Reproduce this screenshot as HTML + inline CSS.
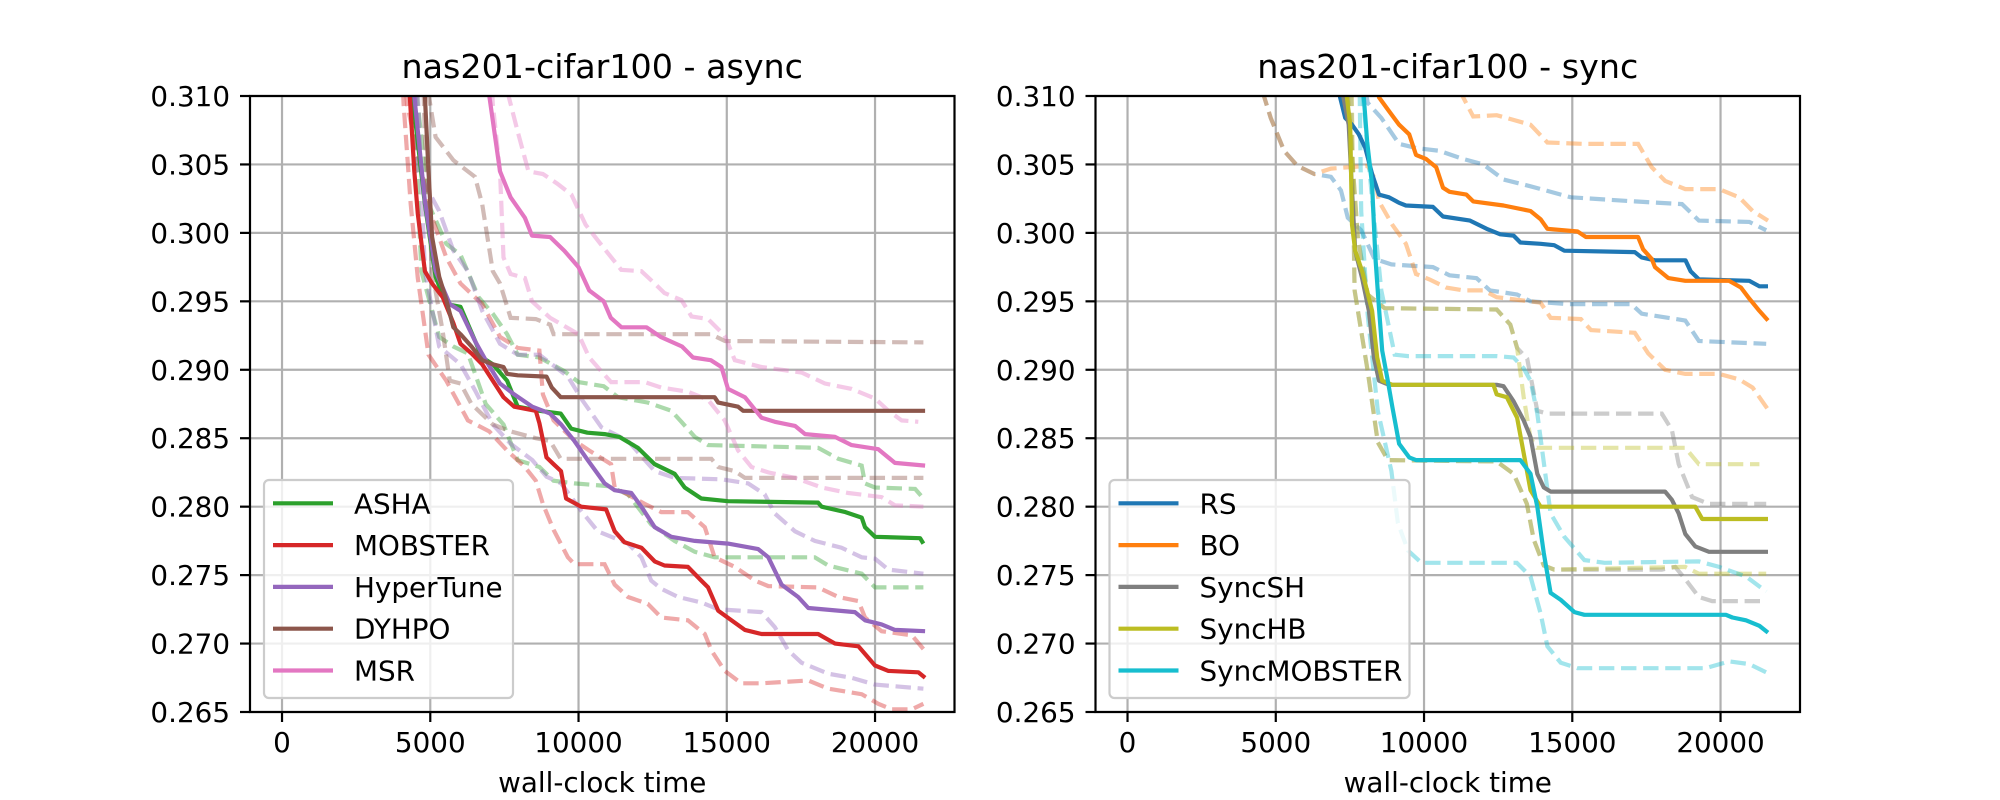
<!DOCTYPE html>
<html><head><meta charset="utf-8"><style>
html,body{margin:0;padding:0;background:#fff;}
svg{display:block;font-family:"DejaVu Sans","Liberation Sans",sans-serif;}
</style></head><body>
<svg id="fig" width="2000" height="800" viewBox="0 0 2000 800" xmlns="http://www.w3.org/2000/svg">
<rect x="0" y="0" width="2000" height="800" fill="#fff"/>
<defs>
<clipPath id="clipL"><rect x="250" y="96" width="704.5" height="616"/></clipPath>
<clipPath id="clipR"><rect x="1095.5" y="96" width="704.5" height="616"/></clipPath>
</defs>
<g id="axL"></g>
<g id="axR"></g>
</svg>
<script>
// ---- data: tick labels ----
const xTicks = [0, 5000, 10000, 15000, 20000];
const yTicks = [0.265, 0.270, 0.275, 0.280, 0.285, 0.290, 0.295, 0.300, 0.305, 0.310];
const yTickLabels = ["0.265","0.270","0.275","0.280","0.285","0.290","0.295","0.300","0.305","0.310"];
const asyncNames = ["ASHA","MOBSTER","HyperTune","DYHPO","MSR"];
const syncNames = ["RS","BO","SyncSH","SyncHB","SyncMOBSTER"];

// ---- async: solid (mean) ----
const ashaT = [4300,4400,4820,5180,5540,6020,6750,7110,7590,7950,8680,9400,9750,10300,10880,11380,12000,12570,13240,13580,14140,15040,18080,18200,19000,19550,19660,20000,21520,21630];
const ashaV = [0.315,0.310,0.3021,0.2968,0.2948,0.2946,0.2909,0.2904,0.2892,0.2873,0.2870,0.2868,0.2857,0.2854,0.2853,0.2851,0.2843,0.2831,0.2824,0.2814,0.2806,0.2804,0.2803,0.2800,0.2796,0.2792,0.2785,0.2778,0.2777,0.2773];
const mobT = [4250,4310,4460,4580,4820,5060,5420,5780,6020,6390,6750,7110,7470,7830,8560,8680,8920,9160,9410,9580,10090,10930,11220,11550,12120,12570,12900,13690,14140,14370,14710,15160,15610,16170,18080,18650,19440,20000,20450,21460,21690];
const mobV = [0.315,0.310,0.3045,0.3014,0.2972,0.2963,0.2953,0.2934,0.2919,0.2912,0.2904,0.2892,0.2880,0.2873,0.2870,0.2861,0.2836,0.2831,0.2826,0.2806,0.2800,0.2798,0.2782,0.2774,0.2770,0.2760,0.2757,0.2756,0.2746,0.2741,0.2724,0.2717,0.2710,0.2707,0.2707,0.2700,0.2698,0.2684,0.2680,0.2679,0.2675];
const htT = [4400,4460,4820,5180,5660,6020,6510,6870,7350,7830,8440,9040,9414,9860,10310,10880,11220,11780,12120,12570,13130,13920,15040,16060,16400,16850,17410,17750,19320,19660,20220,20670,21690];
const htV = [0.315,0.310,0.3023,0.2972,0.2948,0.2943,0.2921,0.2907,0.2890,0.2882,0.2873,0.2868,0.2860,0.2848,0.2834,0.2817,0.2812,0.2810,0.2800,0.2785,0.2778,0.2775,0.2773,0.2769,0.2763,0.2743,0.2734,0.2726,0.2723,0.2717,0.2714,0.2710,0.2709];
const dyT = [4800,4820,4940,5060,5300,5540,5780,6020,6390,6750,7110,7470,7590,7950,8920,9100,9400,14590,14710,15380,15550,21690];
const dyV = [0.315,0.310,0.3045,0.2997,0.2968,0.2951,0.2931,0.2926,0.2917,0.2907,0.2904,0.2902,0.2897,0.2896,0.2895,0.2887,0.2880,0.2880,0.2876,0.2873,0.2870,0.2870];
const msrT = [6950,6990,7350,7710,8190,8430,9040,9520,9760,10000,10360,10850,11090,11450,12290,12770,13490,13860,14460,14820,15040,15610,16170,16620,17300,17640,18650,19210,20110,20670,21690];
const msrV = [0.315,0.310,0.3045,0.3026,0.3011,0.2998,0.2997,0.2987,0.2981,0.2975,0.2958,0.2950,0.2938,0.2931,0.2931,0.2924,0.2917,0.2909,0.2907,0.2902,0.2886,0.2880,0.2865,0.2862,0.2859,0.2853,0.2851,0.2845,0.2842,0.2832,0.2830];
// ---- async: dashed (quantiles) ----
const ashaUpT = [4450,4940,5540,6020,6630,7110,7590,7950,8680,9520,10000,10850,11330,12340,13130,13470,13920,14370,18080,18760,19550,19660,20000,21350,21630];
const ashaUpV = [0.312,0.3021,0.2992,0.2984,0.2953,0.2941,0.2926,0.2911,0.2909,0.2899,0.2891,0.2888,0.2880,0.2876,0.2870,0.2862,0.2851,0.2845,0.2843,0.2835,0.2830,0.2817,0.2814,0.2813,0.2806];
const ashaLoT = [4400,4700,5300,5780,6270,6870,7470,7950,8680,9160,9860,11000,11670,12450,13240,13920,14590,17970,18420,19550,20000,21630];
const ashaLoV = [0.312,0.2972,0.2924,0.2917,0.2912,0.2875,0.2860,0.2834,0.2829,0.2819,0.2817,0.2815,0.2809,0.2787,0.2775,0.2767,0.2763,0.2763,0.2757,0.2751,0.2741,0.2741];
const mobUpT = [4150,4220,4580,5060,5540,6020,6750,7350,7950,8680,8800,9160,9880,10360,11100,11220,12230,12790,13690,14260,14590,15270,15950,16400,18080,18760,19440,19660,20220,21240,21630];
const mobUpV = [0.312,0.3094,0.3057,0.3011,0.2982,0.2963,0.2948,0.2924,0.2916,0.2914,0.2882,0.2863,0.2848,0.2841,0.2831,0.2814,0.2802,0.2796,0.2796,0.2785,0.2763,0.2756,0.2746,0.2742,0.2741,0.2734,0.2731,0.2719,0.2709,0.2706,0.2696];
const mobLoT = [4050,4100,4340,4580,4940,5540,6270,6990,7590,8190,8560,8800,9160,9640,9860,10880,11220,11670,12340,12790,13690,14260,14480,14930,15490,16170,17750,18420,19550,20110,20560,21240,21630];
const mobLoV = [0.312,0.3094,0.3021,0.2967,0.2911,0.2892,0.2863,0.2855,0.2841,0.2829,0.2819,0.2802,0.2783,0.2763,0.2758,0.2758,0.2743,0.2734,0.2729,0.2719,0.2717,0.2707,0.2695,0.2680,0.2671,0.2671,0.2673,0.2667,0.2663,0.2656,0.2652,0.2652,0.2656];
const htUpT = [4500,4580,5300,5780,6270,6750,7350,7950,8680,9640,10120,10770,11670,12570,13240,14820,15720,16280,16620,17300,17970,18870,19550,20000,20450,21630];
const htUpV = [0.312,0.3045,0.3016,0.2987,0.2972,0.2943,0.2919,0.2911,0.2911,0.2895,0.2878,0.2858,0.2848,0.2826,0.2821,0.2820,0.2817,0.2809,0.2795,0.2782,0.2775,0.2770,0.2763,0.2762,0.2754,0.2751];
const htLoT = [4550,4820,5300,6020,6510,7110,7710,8440,8920,9414,10090,10650,11670,12120,12450,12790,13360,14140,14710,16170,16620,17070,17520,18420,19210,20000,21630];
const htLoV = [0.312,0.2972,0.2917,0.2904,0.2885,0.2860,0.2846,0.2834,0.2822,0.2817,0.2797,0.2782,0.2773,0.2763,0.2746,0.2740,0.2734,0.2730,0.2725,0.2723,0.2712,0.2695,0.2686,0.2678,0.2675,0.2670,0.2667];
const dyUpT = [4800,5180,5780,6510,6750,7110,7350,7710,8560,9040,9160,14460,14940,21630];
const dyUpV = [0.312,0.3070,0.3053,0.3041,0.3021,0.2972,0.2963,0.2938,0.2937,0.2933,0.2926,0.2926,0.2921,0.2920];
const dyLoT = [4750,4820,5060,5420,5660,6020,6390,6630,7110,7710,8560,9040,9400,14480,14710,15270,15610,21630];
const dyLoV = [0.312,0.3070,0.2972,0.2928,0.2892,0.2890,0.2875,0.2870,0.2860,0.2855,0.2850,0.2848,0.2835,0.2835,0.2829,0.2826,0.2821,0.2821];
const msrUpT = [7600,7650,7950,8310,8800,9280,9760,10240,10850,11440,12120,12570,12900,13470,13810,14370,14930,15270,16170,17520,18310,19210,20000,20450,20900,21460];
const msrUpV = [0.312,0.3099,0.3074,0.3045,0.3043,0.3036,0.3028,0.3006,0.2989,0.2973,0.2972,0.2963,0.2956,0.2951,0.2939,0.2937,0.2925,0.2907,0.2902,0.2898,0.2890,0.2886,0.2879,0.2870,0.2863,0.2862];
const msrLoT = [7050,7110,7350,7470,7710,8190,8430,9040,10000,10360,10850,11100,12230,12790,13690,14370,14930,15380,15830,16400,17300,18200,19100,20220,20670,21630];
const msrLoV = [0.312,0.3094,0.3045,0.2982,0.2970,0.2967,0.2950,0.2938,0.2926,0.2909,0.2897,0.2891,0.2891,0.2887,0.2884,0.2878,0.2863,0.2841,0.2829,0.2825,0.2821,0.2814,0.2810,0.2807,0.2801,0.2800];

// ---- sync: solid ----
const rsT = [7100,7170,7340,7570,7800,8020,8250,8480,8820,9160,9390,10300,10640,11550,12110,12570,13020,13250,13930,14390,14730,17110,17340,17790,18820,18990,19270,20970,21310,21600];
const rsV = [0.315,0.3099,0.3084,0.3079,0.3072,0.3062,0.3043,0.3028,0.3026,0.3022,0.3020,0.3019,0.3012,0.3009,0.3003,0.2999,0.2998,0.2993,0.2992,0.2991,0.2987,0.2986,0.2982,0.2980,0.2980,0.2972,0.2966,0.2965,0.2961,0.2961];
const boT = [8400,8480,8820,9160,9500,9730,10070,10410,10640,10860,11430,11660,12680,13590,13930,14160,15180,15460,17220,17390,17680,17790,18240,18810,20290,20690,20970,21310,21600];
const boV = [0.315,0.3099,0.3089,0.3079,0.3072,0.3057,0.3054,0.3048,0.3033,0.3030,0.3028,0.3023,0.3020,0.3016,0.3010,0.3003,0.3001,0.2997,0.2997,0.2988,0.2981,0.2975,0.2967,0.2965,0.2965,0.2960,0.2952,0.2943,0.2936];
const shT = [7250,7280,7460,7570,7680,7910,8140,8310,8480,8820,12450,12680,13020,13360,13590,13820,14040,14270,18130,18360,18590,18810,19150,19610,21600];
const shV = [0.315,0.3099,0.3079,0.3031,0.2987,0.2967,0.2943,0.2909,0.2892,0.2889,0.2889,0.2888,0.2877,0.2863,0.2851,0.2824,0.2814,0.2811,0.2811,0.2805,0.2795,0.2780,0.2771,0.2767,0.2767];
const hbT = [7370,7400,7510,7570,7680,7910,8250,8420,8590,8930,12340,12450,12790,13140,13360,13590,13930,19150,19380,21600];
const hbV = [0.315,0.3099,0.3079,0.3006,0.2987,0.2972,0.2943,0.2909,0.2892,0.2889,0.2889,0.2882,0.2880,0.2865,0.2839,0.2812,0.2800,0.2800,0.2791,0.2791];
const smT = [7950,7970,8080,8250,8360,8480,8590,8760,8930,9160,9500,9730,13250,13590,13820,14040,14270,14610,15070,15410,20180,20400,20860,21310,21600];
const smV = [0.315,0.3099,0.3067,0.3035,0.2982,0.2945,0.2914,0.2894,0.2873,0.2846,0.2836,0.2834,0.2834,0.2824,0.2800,0.2766,0.2737,0.2732,0.2723,0.2721,0.2721,0.2719,0.2717,0.2713,0.2708];
// ---- sync: dashed ----
const rsUpT = [7900,8100,8560,9160,9730,10520,11320,12000,12680,13590,14950,17110,18700,19270,20970,21540];
const rsUpV = [0.312,0.3095,0.3084,0.3065,0.3062,0.3060,0.3054,0.3050,0.3039,0.3034,0.3026,0.3023,0.3021,0.3009,0.3008,0.3002];
const rsLoT = [4500,4600,4830,5280,5730,6300,6860,7200,7430,7880,8330,8900,10300,10860,11770,12220,13140,13590,14840,16990,17340,18810,19270,21540];
const rsLoV = [0.312,0.310,0.3084,0.3060,0.3049,0.3043,0.3041,0.3031,0.3011,0.3002,0.2981,0.2977,0.2975,0.2969,0.2967,0.2958,0.2955,0.2950,0.2948,0.2948,0.2941,0.2936,0.2921,0.2919];
const boUpT = [11200,11320,11660,12450,13590,14160,15410,17220,17680,18130,18810,19950,20630,21080,21600];
const boUpV = [0.3105,0.3099,0.3085,0.3086,0.3079,0.3066,0.3065,0.3065,0.3048,0.3038,0.3032,0.3032,0.3026,0.3016,0.3009];
const boLoT = [4500,4600,4830,5280,5730,6300,6860,8100,8330,8480,8930,9390,9730,10180,10750,11320,12000,12450,13930,14270,15290,15630,17110,17560,18130,18810,19950,20630,21080,21600];
const boLoV = [0.312,0.310,0.3084,0.3060,0.3049,0.3043,0.3047,0.3049,0.3040,0.3023,0.3006,0.2992,0.2970,0.2966,0.2960,0.2958,0.2958,0.2953,0.2949,0.2938,0.2937,0.2929,0.2927,0.2912,0.2900,0.2897,0.2897,0.2893,0.2887,0.2871];
const shUpT = [7380,7430,7770,8100,8670,12450,12910,13140,13480,13820,14160,18020,18360,18590,19040,19610,21540];
const shUpV = [0.312,0.310,0.2996,0.2955,0.2945,0.2944,0.2933,0.2916,0.2908,0.2870,0.2868,0.2868,0.2856,0.2831,0.2807,0.2802,0.2802];
const shLoT = [7530,7660,8100,8440,8780,12450,13020,13470,13700,14040,14390,18020,18470,18810,19270,19720,21540];
const shLoV = [0.312,0.2958,0.2899,0.2847,0.2834,0.2833,0.2824,0.2802,0.2776,0.2757,0.2754,0.2754,0.2756,0.2747,0.2734,0.2731,0.2731];
const hbUpT = [7400,7430,7770,8100,8670,12450,12910,13140,13360,13590,13800,18810,19270,21310];
const hbUpV = [0.312,0.310,0.2996,0.2955,0.2945,0.2944,0.2933,0.2916,0.2880,0.2850,0.2843,0.2843,0.2831,0.2831];
const hbLoT = [7550,7660,8100,8440,8780,12450,13020,13470,13700,14040,14390,18810,19270,21540];
const hbLoV = [0.312,0.2958,0.2899,0.2847,0.2834,0.2833,0.2824,0.2802,0.2776,0.2757,0.2754,0.2756,0.2751,0.2751];
const smUpT = [7900,7940,8220,8560,9010,9460,10150,12450,13020,13360,13590,13820,14270,14730,15410,16090,19270,19950,20860,21540];
const smUpV = [0.312,0.310,0.3031,0.2958,0.2911,0.2910,0.2910,0.2910,0.2909,0.2901,0.2892,0.2868,0.2795,0.2778,0.2761,0.2759,0.2760,0.2756,0.2749,0.2738];
const smLoT = [7820,7880,8100,8440,8900,9120,9460,9910,13130,13590,13930,14160,14610,15180,19500,20290,20970,21540];
const smLoV = [0.312,0.3016,0.2940,0.2870,0.2826,0.2788,0.2768,0.2759,0.2759,0.2749,0.2722,0.2698,0.2686,0.2682,0.2682,0.2687,0.2685,0.2679];

const NS = "http://www.w3.org/2000/svg";
const XMIN = -1080, XMAX = 22680, YMIN = 0.265, YMAX = 0.310;
const AW = 704.5, AT = 96, AB = 712;
function xScale(left, t) { return left + (t - XMIN) / (XMAX - XMIN) * AW; }
function yScale(v) { return AB - (v - YMIN) / (YMAX - YMIN) * (AB - AT); }
function mk(tag, parent) { const e = document.createElementNS(NS, tag); parent.appendChild(e); return e; }

function drawAxes(g, left, title, clipId, series, names, colors, keyName) {
  // grid
  const grid = mk('g', g);
  
  
  xTicks.forEach(t => {
    const l = mk('line', grid);
    
    
    const x = xScale(left, t);
    l.setAttribute('x1', x); l.setAttribute('x2', x); l.setAttribute('y1', AT); l.setAttribute('y2', AB);
    l.setAttribute('stroke', '#b0b0b0'); l.setAttribute('stroke-width', '2.2');
  });
  yTicks.forEach(v => {
    const l = mk('line', grid);
    
    
    const y = yScale(v);
    l.setAttribute('x1', left); l.setAttribute('x2', left + AW); l.setAttribute('y1', y); l.setAttribute('y2', y);
    l.setAttribute('stroke', '#b0b0b0'); l.setAttribute('stroke-width', '2.2');
  });
  // series
  const sg = mk('g', g);
  sg.setAttribute('clip-path', 'url(#' + clipId + ')');
  
  
  series.forEach(s => {
    const p = mk('polyline', sg);
    
    
    p.setAttribute('points', s.T.map((t, i) => xScale(left, t).toFixed(1) + ',' + yScale(s.V[i]).toFixed(1)).join(' '));
    p.setAttribute('fill', 'none');
    p.setAttribute('stroke', s.color);
    p.setAttribute('stroke-width', '4.2');
    if (s.dash) {
      p.setAttribute('stroke-dasharray', '15.4 6.7');
      p.setAttribute('stroke-opacity', '0.4');
    } else {
      p.setAttribute('stroke-linejoin', 'round');
    }
  });
  // spines
  const sp = mk('rect', g);
  
  
  sp.setAttribute('x', left); sp.setAttribute('y', AT); sp.setAttribute('width', AW); sp.setAttribute('height', AB - AT);
  sp.setAttribute('fill', 'none'); sp.setAttribute('stroke', '#000'); sp.setAttribute('stroke-width', '2.2');
  // ticks
  xTicks.forEach(t => {
    const x = xScale(left, t);
    const tk = mk('line', g);
    
    
    tk.setAttribute('x1', x); tk.setAttribute('x2', x); tk.setAttribute('y1', AB); tk.setAttribute('y2', AB + 10);
    tk.setAttribute('stroke', '#000'); tk.setAttribute('stroke-width', '2.2');
    const tx = mk('text', g);
    
    
    tx.setAttribute('x', x); tx.setAttribute('y', AB + 40);
    tx.setAttribute('text-anchor', 'middle'); tx.setAttribute('font-size', '27.8');
    tx.textContent = String(t);
  });
  yTicks.forEach((v, i) => {
    const y = yScale(v);
    const tk = mk('line', g);
    
    
    tk.setAttribute('x1', left - 10); tk.setAttribute('x2', left); tk.setAttribute('y1', y); tk.setAttribute('y2', y);
    tk.setAttribute('stroke', '#000'); tk.setAttribute('stroke-width', '2.2');
    const tx = mk('text', g);
    
    
    tx.setAttribute('x', left - 20); tx.setAttribute('y', y + 10);
    tx.setAttribute('text-anchor', 'end'); tx.setAttribute('font-size', '27.8');
    tx.textContent = yTickLabels[i];
  });
  const xl = mk('text', g);
  
  
  xl.setAttribute('x', left + AW / 2); xl.setAttribute('y', 792);
  xl.setAttribute('text-anchor', 'middle'); xl.setAttribute('font-size', '27.8');
  xl.textContent = 'wall-clock time';
  const tt = mk('text', g);
  
  
  tt.setAttribute('x', left + AW / 2); tt.setAttribute('y', 78);
  tt.setAttribute('text-anchor', 'middle'); tt.setAttribute('font-size', '33.3');
  tt.textContent = title;
  // legend
  const lg = mk('g', g);
  
  
  const box = mk('rect', lg);
  
  
  const bw = keyName === 'async' ? 249 : 300;
  box.setAttribute('x', left + 14); box.setAttribute('y', 480); box.setAttribute('width', bw); box.setAttribute('height', 218);
  box.setAttribute('rx', '5'); box.setAttribute('fill', '#fff'); box.setAttribute('fill-opacity', '0.8');
  box.setAttribute('stroke', '#cccccc'); box.setAttribute('stroke-width', '2.2');
  names.forEach((n, i) => {
    const y = 503.3 + i * 41.8;
    const e = mk('g', lg);
    
    
    const ln = mk('line', e);
    
    
    ln.setAttribute('x1', left + 23); ln.setAttribute('x2', left + 83); ln.setAttribute('y1', y); ln.setAttribute('y2', y);
    ln.setAttribute('stroke', colors[i]); ln.setAttribute('stroke-width', '4.2');
    const tx = mk('text', e);
    
    
    tx.setAttribute('x', left + 104); tx.setAttribute('y', y + 10);
    tx.setAttribute('font-size', '27.8');
    tx.textContent = n;
  });
}

const cG='#2ca02c', cR='#d62728', cP='#9467bd', cBr='#8c564b', cPk='#e377c2';
const cB='#1f77b4', cO='#ff7f0e', cGr='#7f7f7f', cOl='#bcbd22', cC='#17becf';

const asyncSeries = [
  {name:'asha-q-upper',T:ashaUpT,V:ashaUpV,color:cG,dash:true},
  {name:'asha-q-lower',T:ashaLoT,V:ashaLoV,color:cG,dash:true},
  {name:'mobster-q-upper',T:mobUpT,V:mobUpV,color:cR,dash:true},
  {name:'mobster-q-lower',T:mobLoT,V:mobLoV,color:cR,dash:true},
  {name:'hypertune-q-upper',T:htUpT,V:htUpV,color:cP,dash:true},
  {name:'hypertune-q-lower',T:htLoT,V:htLoV,color:cP,dash:true},
  {name:'dyhpo-q-upper',T:dyUpT,V:dyUpV,color:cBr,dash:true},
  {name:'dyhpo-q-lower',T:dyLoT,V:dyLoV,color:cBr,dash:true},
  {name:'msr-q-upper',T:msrUpT,V:msrUpV,color:cPk,dash:true},
  {name:'msr-q-lower',T:msrLoT,V:msrLoV,color:cPk,dash:true},
  {name:'asha-line',T:ashaT,V:ashaV,color:cG},
  {name:'mobster-line',T:mobT,V:mobV,color:cR},
  {name:'hypertune-line',T:htT,V:htV,color:cP},
  {name:'dyhpo-line',T:dyT,V:dyV,color:cBr},
  {name:'msr-line',T:msrT,V:msrV,color:cPk}
];
const syncSeries = [
  {name:'rs-q-upper',T:rsUpT,V:rsUpV,color:cB,dash:true},
  {name:'rs-q-lower',T:rsLoT,V:rsLoV,color:cB,dash:true},
  {name:'bo-q-upper',T:boUpT,V:boUpV,color:cO,dash:true},
  {name:'bo-q-lower',T:boLoT,V:boLoV,color:cO,dash:true},
  {name:'syncsh-q-upper',T:shUpT,V:shUpV,color:cGr,dash:true},
  {name:'syncsh-q-lower',T:shLoT,V:shLoV,color:cGr,dash:true},
  {name:'synchb-q-upper',T:hbUpT,V:hbUpV,color:cOl,dash:true},
  {name:'synchb-q-lower',T:hbLoT,V:hbLoV,color:cOl,dash:true},
  {name:'syncmobster-q-upper',T:smUpT,V:smUpV,color:cC,dash:true},
  {name:'syncmobster-q-lower',T:smLoT,V:smLoV,color:cC,dash:true},
  {name:'rs-line',T:rsT,V:rsV,color:cB},
  {name:'bo-line',T:boT,V:boV,color:cO},
  {name:'syncsh-line',T:shT,V:shV,color:cGr},
  {name:'synchb-line',T:hbT,V:hbV,color:cOl},
  {name:'syncmobster-line',T:smT,V:smV,color:cC}
];

drawAxes(document.getElementById('axL'), 250, 'nas201-cifar100 - async', 'clipL', asyncSeries, asyncNames, [cG,cR,cP,cBr,cPk], 'async');
drawAxes(document.getElementById('axR'), 1095.5, 'nas201-cifar100 - sync', 'clipR', syncSeries, syncNames, [cB,cO,cGr,cOl,cC], 'sync');
</script>
</body></html>
